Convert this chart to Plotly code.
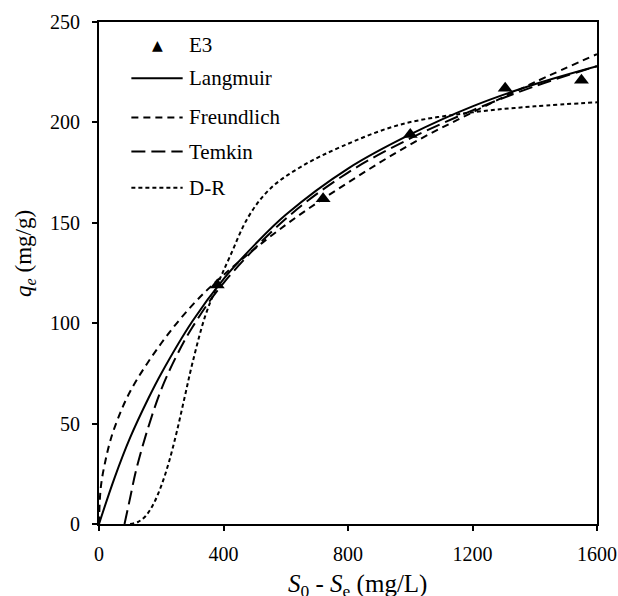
import plotly.graph_objects as go

# ---- data ----
e3_x = [380, 720, 1000, 1305, 1550]
e3_q = [119, 162, 194, 217, 221]

lang_x = [0, 50, 100, 160, 200, 300, 400, 500, 600, 800, 1000, 1200, 1400, 1600]
lang_q = [0, 23, 43, 63, 75, 101, 122, 139, 154, 177, 194, 208, 219, 228]

freu_x = [0, 2, 5, 10, 20, 32, 50, 100, 200, 300, 400, 600, 800, 1000, 1200, 1400, 1600]
freu_q = [0, 10, 17, 23, 31, 39, 48, 66, 90, 109, 124, 149, 170, 189, 205, 220, 234]

temk_x = [82, 100, 118, 150, 200, 250, 300, 400, 600, 800, 1000, 1200, 1400, 1600]
temk_q = [0, 13, 26, 44, 67, 84, 98, 120, 152, 175, 192, 206, 218, 228]

dr_x = [100, 125, 150, 175, 200, 225, 250, 275, 300, 340, 380, 420, 480, 550, 650, 780, 970, 1200, 1400, 1600]
dr_q = [0, 1, 4, 10, 19, 31, 46, 63, 80, 103, 119, 133, 153, 167, 178, 188, 199, 205, 208, 210]

x_ticks = [0, 400, 800, 1200, 1600]
y_ticks = [0, 50, 100, 150, 200, 250]

legend_names = ["E3", "Langmuir", "Freundlich", "Temkin", "D-R"]

FONT = "Liberation Serif"

fig = go.Figure()
fig.add_trace(go.Scatter(x=lang_x, y=lang_q, mode="lines", line=dict(color="black", width=2, shape="spline"), name="Langmuir"))
fig.add_trace(go.Scatter(x=freu_x, y=freu_q, mode="lines", line=dict(color="black", width=2, dash="7px,5px", shape="spline"), name="Freundlich"))
fig.add_trace(go.Scatter(x=temk_x, y=temk_q, mode="lines", line=dict(color="black", width=2, dash="14px,6px", shape="spline"), name="Temkin"))
fig.add_trace(go.Scatter(x=dr_x, y=dr_q, mode="lines", line=dict(color="black", width=2, dash="4px,3px", shape="spline"), name="D-R"))
fig.add_trace(go.Scatter(x=e3_x, y=e3_q, mode="markers", marker=dict(symbol="triangle-up", size=13, color="black"), name="E3"))

# custom legend (positions in axis-domain units)
leg_dash = [None, "solid", "7px,5px", "14px,6px", "4px,3px"]
leg_y = [0.955, 0.888, 0.81, 0.742, 0.67]
shapes = []
annotations = []
for name, dsh, yy in zip(legend_names, leg_dash, leg_y):
    if dsh is not None:
        shapes.append(dict(type="line", xref="x domain", yref="y domain", x0=0.065, x1=0.168, y0=yy, y1=yy,
                           line=dict(color="black", width=2, dash=dsh)))
    else:
        annotations.append(dict(xref="x domain", yref="y domain", x=0.118, y=yy, text="▲", showarrow=False,
                                font=dict(family="DejaVu Sans", size=14, color="black"), xanchor="center", yanchor="middle"))
    annotations.append(dict(xref="x domain", yref="y domain", x=0.176, y=yy, text=name, showarrow=False,
                            font=dict(family=FONT, size=21, color="black"), xanchor="left", yanchor="middle"))

annotations.append(dict(xref="paper", yref="paper", x=0.52, y=-0.122, yanchor="middle", xanchor="center",
                        text="<i>S</i><sub>0</sub> - <i>S</i><sub>e</sub> (mg/L)", showarrow=False,
                        font=dict(family=FONT, size=25, color="black")))
annotations.append(dict(xref="paper", yref="paper", x=-0.1486, y=0.54, xanchor="center", yanchor="middle", textangle=-90,
                        text="<i>q<sub>e</sub></i> (mg/g)", showarrow=False,
                        font=dict(family=FONT, size=23, color="black")))

fig.update_layout(
    width=618, height=596,
    margin=dict(l=99, r=21, t=22, b=72),
    paper_bgcolor="white", plot_bgcolor="white",
    showlegend=False,
    font=dict(family=FONT, size=20, color="black"),
    shapes=shapes, annotations=annotations,
)
fig.update_xaxes(range=[0, 1600], tickvals=x_ticks, showgrid=False, zeroline=False,
                 showline=True, linecolor="black", linewidth=2, mirror=True,
                 ticks="outside", ticklen=5, tickwidth=1.5, tickcolor="black",
                 ticklabelstandoff=6, automargin=False, ticklabeloverflow="allow",
                 tickfont=dict(family=FONT, size=20, color="black"))
fig.update_yaxes(range=[0, 250], tickvals=y_ticks, showgrid=False, zeroline=False,
                 showline=True, linecolor="black", linewidth=2, mirror=True,
                 ticks="outside", ticklen=5, tickwidth=1.5, tickcolor="black",
                 ticklabelstandoff=8, automargin=False, ticklabeloverflow="allow",
                 tickfont=dict(family=FONT, size=20, color="black"))

fig.write_html("out.html", config={"displayModeBar": False},
               post_script="document.body.style.margin='0px'; document.body.style.overflow='hidden';")
